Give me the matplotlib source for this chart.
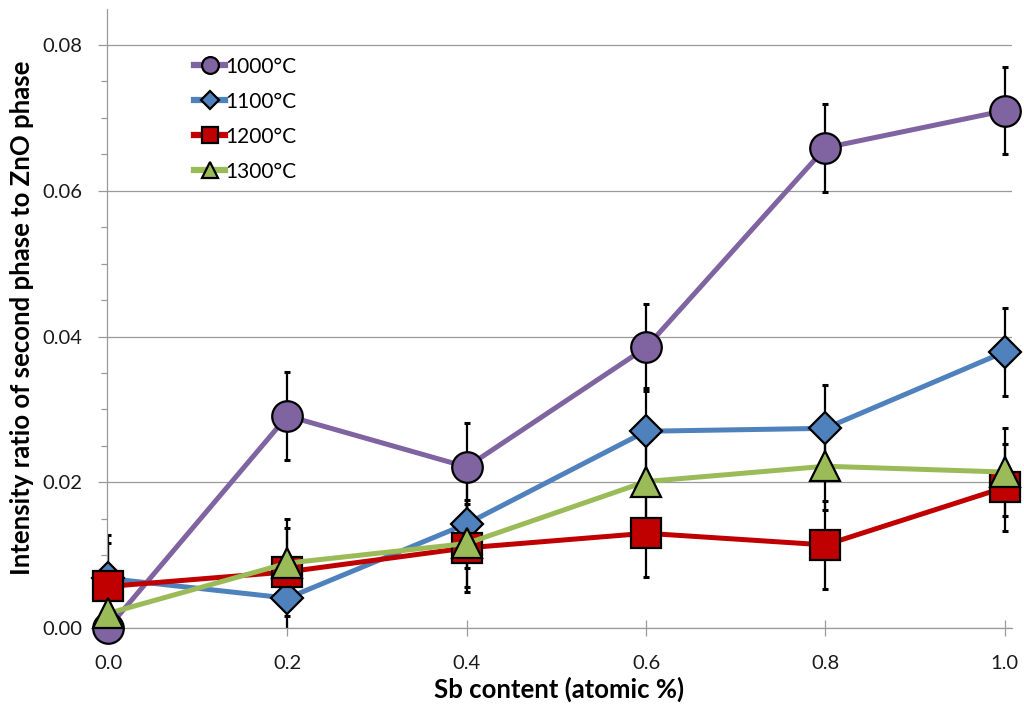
import numpy as np
import matplotlib.pyplot as plt

plt.rcParams['font.family'] = ['Lato', 'DejaVu Sans']

# contenido de Sb (% atomico)
sb = [0.0, 0.2, 0.4, 0.6, 0.8, 1.0]

temperaturas = ['1000°C', '1100°C', '1200°C', '1300°C']

# relacion de intensidad segunda fase / ZnO
r1000 = [0.0000, 0.0291, 0.0221, 0.0385, 0.0659, 0.0710]
r1100 = [0.0068, 0.0041, 0.0143, 0.0270, 0.0274, 0.0379]
r1200 = [0.0057, 0.0077, 0.0110, 0.0130, 0.0114, 0.0193]
r1300 = [0.0020, 0.0089, 0.0116, 0.0201, 0.0222, 0.0214]

# barras de error
e1000 = [0.006, 0.006, 0.006, 0.006, 0.006, 0.006]
e1100 = [0.006, 0.006, 0.006, 0.006, 0.006, 0.006]
e1200 = [0.006, 0.006, 0.006, 0.006, 0.006, 0.006]
e1300 = [0.006, 0.006, 0.006, 0.006, 0.006, 0.006]

series = [r1000, r1100, r1200, r1300]
errores = [e1000, e1100, e1200, e1300]
colores = ['#8064A2', '#4F81BD', '#C00000', '#9BBB59']
marcadores = ['o', 'D', 's', '^']
tamanos = [22, 16, 22, 22]

fig = plt.figure(figsize=(10.24, 7.13), dpi=100)
ax = fig.add_axes([107 / 1024, 85 / 713, 905 / 1024, 619.4 / 713])

# primero las barras de error, debajo de todo
for y, e in zip(series, errores):
    ax.errorbar(sb, y, yerr=e, fmt='none', ecolor='black', elinewidth=1.6,
                capsize=2.5, capthick=2.2, zorder=2)

lineas = []
for y, c, m, ms, t in zip(series, colores, marcadores, tamanos, temperaturas):
    l, = ax.plot(sb, y, color=c, lw=3.6, marker=m, markersize=ms,
                 markerfacecolor=c, markeredgecolor='black', markeredgewidth=1.6,
                 label=t, zorder=3, clip_on=False)
    lineas.append(l)

ax.set_xlim(-0.0012, 1.008)
ax.set_ylim(0, 0.085)
ax.set_xticks(np.arange(0, 1.01, 0.2))
ax.set_xticklabels([f'{v:.1f}' for v in np.arange(0, 1.01, 0.2)])
ax.set_yticks(np.arange(0, 0.081, 0.02))
ax.set_yticklabels([f'{v:.2f}' for v in np.arange(0, 0.081, 0.02)])
ax.set_yticks(np.arange(0, 0.085, 0.005), minor=True)

ax.grid(axis='y', which='major', color='#9A9A9A', lw=0.9)
ax.set_axisbelow(True)
for s in ['top', 'right']:
    ax.spines[s].set_visible(False)
for s in ['left', 'bottom']:
    ax.spines[s].set_color('#9A9A9A')
    ax.spines[s].set_linewidth(0.9)

ax.tick_params(axis='y', which='major', length=6.5, width=0.9, color='#9A9A9A',
               labelsize=14.5, pad=11)
ax.tick_params(axis='y', which='minor', length=4.5, width=0.9, color='#9A9A9A')
ax.tick_params(axis='x', which='major', direction='inout', length=11.5, width=0.9,
               color='#9A9A9A', labelsize=14.5, pad=14)

ax.set_xlabel('Sb content (atomic %)', fontsize=18.5, fontweight='bold', labelpad=3)
ax.set_ylabel('Intensity ratio of second phase to ZnO phase', fontsize=18.5,
              fontweight='bold', labelpad=6)

for lbl in ax.get_xticklabels() + ax.get_yticklabels():
    lbl.set_color('#1a1a1a')

leg = ax.legend(handles=lineas, loc='upper left', bbox_to_anchor=(184 / 1024, 0.935),
                bbox_transform=fig.transFigure, frameon=False, fontsize=15,
                handlelength=1.45, handletextpad=0.05, labelspacing=0.72,
                borderpad=0, markerscale=0.55)
for h in leg.legend_handles:
    h.set_linewidth(4.5)

plt.savefig('out.png', dpi=100)
